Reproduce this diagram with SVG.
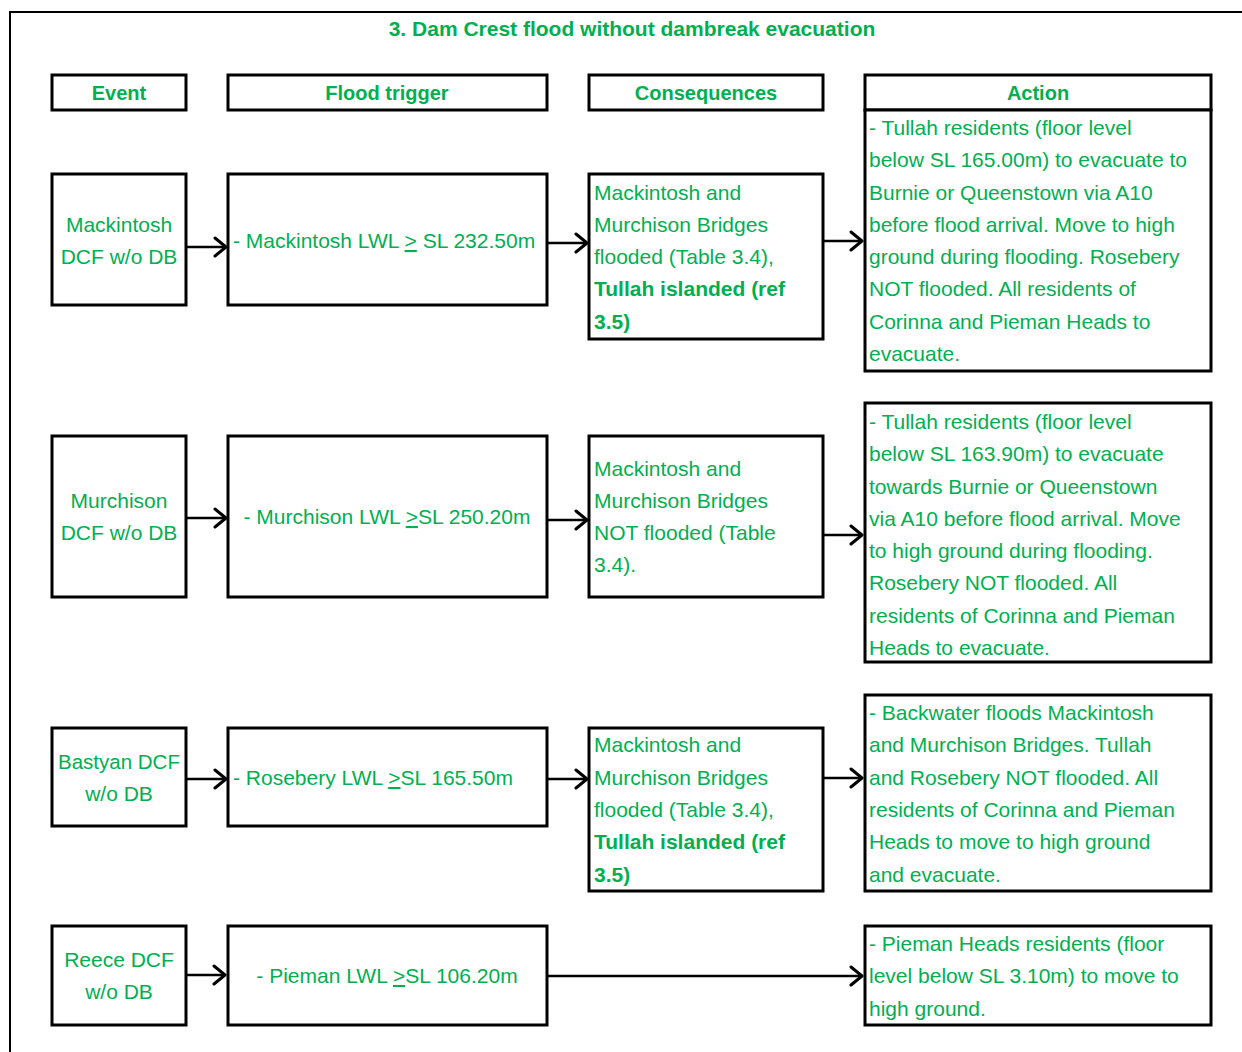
<svg xmlns="http://www.w3.org/2000/svg" width="1242" height="1052" viewBox="0 0 1242 1052">
  <defs>
    <marker id="chev" markerUnits="userSpaceOnUse" markerWidth="16" markerHeight="22" refX="13" refY="11" orient="auto">
      <path d="M2,2 L13,11 L2,20" fill="none" stroke="#000" stroke-width="3" stroke-linecap="round" stroke-linejoin="round"/>
    </marker>
    <style>
      .box { fill: #fff; stroke: #000; stroke-width: 3; }
      .frame { fill: none; stroke: #000; stroke-width: 2; }
      .t { font-family: "Liberation Sans", Arial, sans-serif; font-size: 21px; fill: #00B050; }
      .c { text-anchor: middle; }
      .b { font-weight: bold; }
      .h { font-family: "Liberation Sans", Arial, sans-serif; font-size: 20px; font-weight: bold; fill: #00B050; text-anchor: middle; }
      .title { font-size: 21px; }
      .u { text-decoration: underline; }
      .link { fill: none; stroke: #000; stroke-width: 2.5; marker-end: url(#chev); }
    </style>
  </defs>
  <rect width="1242" height="1052" fill="#fff"/>

  <!-- page frame -->
  <path class="frame" d="M10,1052 V12 H1242"/>

  <text class="h title" x="632" y="36">3. Dam Crest flood without dambreak evacuation</text>

  <!-- column headers -->
  <g id="hdr-event">
    <rect class="box" x="52" y="75" width="134" height="35"/>
    <text class="h" x="119" y="100">Event</text>
  </g>
  <g id="hdr-trigger">
    <rect class="box" x="228" y="75" width="319" height="35"/>
    <text class="h" x="387" y="100">Flood trigger</text>
  </g>
  <g id="hdr-consequences">
    <rect class="box" x="589" y="75" width="234" height="35"/>
    <text class="h" x="706" y="100">Consequences</text>
  </g>
  <g id="hdr-action">
    <rect class="box" x="865" y="75" width="346" height="35"/>
    <text class="h" x="1038" y="100">Action</text>
  </g>

  <!-- row 1: Mackintosh -->
  <g id="event-mackintosh">
    <rect class="box" x="52" y="174" width="134" height="131"/>
    <text class="t c" x="119" y="232">Mackintosh</text>
    <text class="t c" x="119" y="264">DCF w/o DB</text>
  </g>
  <g id="trigger-mackintosh">
    <rect class="box" x="228" y="174" width="319" height="131"/>
    <text class="t" x="233" y="248">- Mackintosh LWL <tspan class="u">&gt;</tspan> SL 232.50m</text>
  </g>
  <g id="cons-mackintosh">
    <rect class="box" x="589" y="174" width="234" height="165"/>
    <text class="t" x="594" y="200">Mackintosh and</text>
    <text class="t" x="594" y="232">Murchison Bridges</text>
    <text class="t" x="594" y="264">flooded (Table 3.4),</text>
    <text class="t b" x="594" y="296">Tullah islanded (ref</text>
    <text class="t b" x="594" y="329">3.5)</text>
  </g>
  <g id="action-mackintosh">
    <rect class="box" x="865" y="110" width="346" height="261"/>
    <text class="t" x="869" y="135">- Tullah residents (floor level</text>
    <text class="t" x="869" y="167">below SL 165.00m) to evacuate to</text>
    <text class="t" x="869" y="200">Burnie or Queenstown via A10</text>
    <text class="t" x="869" y="232">before flood arrival. Move to high</text>
    <text class="t" x="869" y="264">ground during flooding. Rosebery</text>
    <text class="t" x="869" y="296">NOT flooded. All residents of</text>
    <text class="t" x="869" y="329">Corinna and Pieman Heads to</text>
    <text class="t" x="869" y="361">evacuate.</text>
  </g>

  <!-- row 2: Murchison -->
  <g id="event-murchison">
    <rect class="box" x="52" y="436" width="134" height="161"/>
    <text class="t c" x="119" y="508">Murchison</text>
    <text class="t c" x="119" y="540">DCF w/o DB</text>
  </g>
  <g id="trigger-murchison">
    <rect class="box" x="228" y="436" width="319" height="161"/>
    <text class="t c" x="387" y="524">- Murchison LWL <tspan class="u">&gt;</tspan>SL 250.20m</text>
  </g>
  <g id="cons-murchison">
    <rect class="box" x="589" y="436" width="234" height="161"/>
    <text class="t" x="594" y="476">Mackintosh and</text>
    <text class="t" x="594" y="508">Murchison Bridges</text>
    <text class="t" x="594" y="540">NOT flooded (Table</text>
    <text class="t" x="594" y="572">3.4).</text>
  </g>
  <g id="action-murchison">
    <rect class="box" x="865" y="403" width="346" height="259"/>
    <text class="t" x="869" y="429">- Tullah residents (floor level</text>
    <text class="t" x="869" y="461">below SL 163.90m) to evacuate</text>
    <text class="t" x="869" y="494">towards Burnie or Queenstown</text>
    <text class="t" x="869" y="526">via A10 before flood arrival. Move</text>
    <text class="t" x="869" y="558">to high ground during flooding.</text>
    <text class="t" x="869" y="590">Rosebery NOT flooded. All</text>
    <text class="t" x="869" y="623">residents of Corinna and Pieman</text>
    <text class="t" x="869" y="655">Heads to evacuate.</text>
  </g>

  <!-- row 3: Bastyan -->
  <g id="event-bastyan">
    <rect class="box" x="52" y="728" width="134" height="98"/>
    <text class="t c" x="119" y="769" style="font-size:20.5px">Bastyan DCF</text>
    <text class="t c" x="119" y="801">w/o DB</text>
  </g>
  <g id="trigger-bastyan">
    <rect class="box" x="228" y="728" width="319" height="98"/>
    <text class="t" x="233" y="785">- Rosebery LWL <tspan class="u">&gt;</tspan>SL 165.50m</text>
  </g>
  <g id="cons-bastyan">
    <rect class="box" x="589" y="728" width="234" height="163"/>
    <text class="t" x="594" y="752">Mackintosh and</text>
    <text class="t" x="594" y="785">Murchison Bridges</text>
    <text class="t" x="594" y="817">flooded (Table 3.4),</text>
    <text class="t b" x="594" y="849">Tullah islanded (ref</text>
    <text class="t b" x="594" y="882">3.5)</text>
  </g>
  <g id="action-bastyan">
    <rect class="box" x="865" y="695" width="346" height="196"/>
    <text class="t" x="869" y="720">- Backwater floods Mackintosh</text>
    <text class="t" x="869" y="752">and Murchison Bridges. Tullah</text>
    <text class="t" x="869" y="785">and Rosebery NOT flooded. All</text>
    <text class="t" x="869" y="817">residents of Corinna and Pieman</text>
    <text class="t" x="869" y="849">Heads to move to high ground</text>
    <text class="t" x="869" y="882">and evacuate.</text>
  </g>

  <!-- row 4: Reece -->
  <g id="event-reece">
    <rect class="box" x="52" y="926" width="134" height="99"/>
    <text class="t c" x="119" y="967">Reece DCF</text>
    <text class="t c" x="119" y="999">w/o DB</text>
  </g>
  <g id="trigger-reece">
    <rect class="box" x="228" y="926" width="319" height="99"/>
    <text class="t c" x="387" y="983">- Pieman LWL <tspan class="u">&gt;</tspan>SL 106.20m</text>
  </g>
  <g id="action-reece">
    <rect class="box" x="865" y="926" width="346" height="99"/>
    <text class="t" x="869" y="951">- Pieman Heads residents (floor</text>
    <text class="t" x="869" y="983">level below SL 3.10m) to move to</text>
    <text class="t" x="869" y="1016">high ground.</text>
  </g>

  <!-- connectors -->
  <g id="connectors">
    <path class="link" d="M187,247 H226"/>
    <path class="link" d="M548,243 H587"/>
    <path class="link" d="M824,241 H862"/>

    <path class="link" d="M187,518 H226"/>
    <path class="link" d="M548,520 H587"/>
    <path class="link" d="M824,535 H862"/>

    <path class="link" d="M187,779 H226"/>
    <path class="link" d="M548,779 H587"/>
    <path class="link" d="M824,778 H862"/>

    <path class="link" d="M187,975 H225"/>
    <path class="link" d="M548,976 H862"/>
  </g>
</svg>
